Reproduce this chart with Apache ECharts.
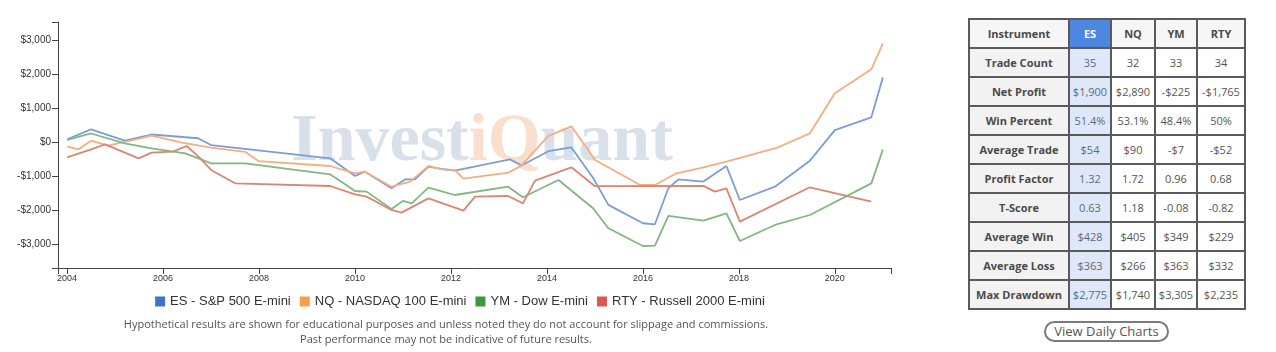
<!DOCTYPE html>
<html>
<head>
<meta charset="utf-8">
<script src="https://cdn.jsdelivr.net/npm/echarts@6/dist/echarts.min.js"></script>
<style>
body { margin: 0; background: #fff; width: 1276px; height: 352px; overflow: hidden; font-family: "Open Sans", sans-serif; }
#chart { position: absolute; left: 0; top: 0; width: 920px; height: 352px; }
#stats { position: absolute; left: 968px; top: 18px; border-collapse: collapse; table-layout: fixed; border: 2px solid #8a8a8a; }
#stats td { border: 2px solid #5a5a5a; height: 27px; padding: 0; text-align: center; font-size: 11px; color: #555; background: #fff; white-space: nowrap; }
#stats td.lbl { background: #f2f2f2; font-weight: bold; color: #4a4a4a; }
#stats td.es { background: #dfe8f8; color: #5a6a80; }
#stats td.esHead { background: #4d87e2; color: #fff; font-weight: bold; }
#stats td.head { background: #f6f6f6; font-weight: bold; color: #4a4a4a; }
#btn { position: absolute; left: 1044px; top: 321px; width: 121px; height: 17px; border: 2px solid #7a7a7a; border-radius: 11px; font-size: 13px; line-height: 17px; text-align: center; color: #555; }
</style>
</head>
<body>
<div id="chart"></div>
<table id="stats"></table>
<div id="btn">View Daily Charts</div>
<script>
// equity curves (year, cumulative $)
var esYears = [2004.0, 2004.5, 2005.2, 2005.76, 2006.73, 2007.0, 2009.48, 2010.0, 2010.2, 2010.76, 2011.04, 2011.25, 2011.53, 2011.8, 2012.08, 2013.23, 2013.47, 2014.03, 2014.51, 2014.96, 2015.28, 2016.0, 2016.25, 2016.53, 2016.74, 2017.26, 2017.74, 2018.02, 2018.75, 2019.48, 2020.0, 2020.76, 2021.0];
var esValues = [80, 370, 40, 220, 110, -90, -480, -1000, -870, -1360, -1100, -1100, -725, -790, -840, -510, -690, -270, -160, -1050, -1850, -2390, -2420, -1360, -1100, -1165, -706, -1706, -1314, -550, 350, 726, 1900];

var nqYears = [2004.0, 2004.24, 2004.5, 2004.85, 2005.5, 2005.76, 2006.39, 2007.0, 2007.71, 2007.99, 2009.48, 2010.0, 2010.2, 2010.76, 2011.15, 2011.53, 2011.8, 2012.08, 2012.26, 2013.2, 2013.47, 2014.03, 2014.51, 2014.93, 2015.0, 2015.38, 2015.94, 2016.25, 2016.7, 2017.26, 2017.74, 2018.82, 2019.48, 2020.0, 2020.76, 2021.0];
var nqValues = [-137, -215, 38, -110, 100, 190, -20, -167, -290, -560, -706, -920, -870, -1314, -1167, -706, -804, -823, -1080, -902, -690, 180, 460, -382, -530, -823, -1265, -1265, -920, -745, -578, -156, 255, 1432, 2138, 2890];

var ymYears = [2004.0, 2004.5, 2005.2, 2005.76, 2006.46, 2006.74, 2007.0, 2007.71, 2009.48, 2010.0, 2010.24, 2010.76, 2011.0, 2011.18, 2011.53, 2012.08, 2013.19, 2013.5, 2014.24, 2014.96, 2015.28, 2016.0, 2016.25, 2016.53, 2017.26, 2017.74, 2018.02, 2018.75, 2019.48, 2020.76, 2021.0];
var ymValues = [60, 250, -40, -190, -333, -480, -627, -627, -951, -1441, -1460, -1970, -1735, -1803, -1343, -1559, -1314, -1627, -1118, -1950, -2539, -3059, -3050, -2176, -2314, -2098, -2912, -2441, -2147, -1216, -225];

var rtyYears = [2004.0, 2004.5, 2004.79, 2005.49, 2005.76, 2006.21, 2006.49, 2006.74, 2007.0, 2007.5, 2009.48, 2010.0, 2010.24, 2010.76, 2010.97, 2011.53, 2012.26, 2012.5, 2013.19, 2013.5, 2013.75, 2014.51, 2015.0, 2017.26, 2017.5, 2017.74, 2018.02, 2019.48, 2020.76];
var rtyValues = [-451, -216, -69, -480, -314, -285, -118, -431, -823, -1216, -1294, -1539, -1608, -2000, -2078, -1657, -2020, -1608, -1588, -1804, -1138, -745, -1300, -1290, -1461, -1363, -2343, -1333, -1755];

var seriesNames = ['ES - S&P 500 E-mini', 'NQ - NASDAQ 100 E-mini', 'YM - Dow E-mini', 'RTY - Russell 2000 E-mini'];
var xTicks = [2004, 2006, 2008, 2010, 2012, 2014, 2016, 2018, 2020];
var yTicks = [-3000, -2000, -1000, 0, 1000, 2000, 3000];

// stats table
var instruments = ['ES', 'NQ', 'YM', 'RTY'];
var rowLabels = ['Trade Count', 'Net Profit', 'Win Percent', 'Average Trade', 'Profit Factor', 'T-Score', 'Average Win', 'Average Loss', 'Max Drawdown'];
var tradeCount = ['35', '32', '33', '34'];
var netProfit = ['$1,900', '$2,890', '-$225', '-$1,765'];
var winPercent = ['51.4%', '53.1%', '48.4%', '50%'];
var avgTrade = ['$54', '$90', '-$7', '-$52'];
var profitFactor = ['1.32', '1.72', '0.96', '0.68'];
var tScore = ['0.63', '1.18', '-0.08', '-0.82'];
var avgWin = ['$428', '$405', '$349', '$229'];
var avgLoss = ['$363', '$266', '$363', '$332'];
var maxDrawdown = ['$2,775', '$1,740', '$3,305', '$2,235'];

var iconColors = ['#3f73cc', '#f4a04a', '#3c9a3c', '#df5454'];
var lineColors = ['#7b9ed6', '#f8ad7e', '#80b880', '#dc8672'];

function zip(xs, ys) {
    var out = [];
    for (var i = 0; i < xs.length; i++) out.push([xs[i], ys[i]]);
    return out;
}

// table
var rows = [tradeCount, netProfit, winPercent, avgTrade, profitFactor, tScore, avgWin, avgLoss, maxDrawdown];
var widths = [98, 40, 42, 40, 46];
var html = '<tr><td class="head" style="width:' + widths[0] + 'px">Instrument</td>';
for (var i = 0; i < instruments.length; i++) {
    html += '<td class="' + (i === 0 ? 'esHead' : 'head') + '" style="width:' + widths[i + 1] + 'px">' + instruments[i] + '</td>';
}
html += '</tr>';
for (var r = 0; r < rows.length; r++) {
    html += '<tr><td class="lbl">' + rowLabels[r] + '</td>';
    for (var c = 0; c < rows[r].length; c++) {
        html += '<td' + (c === 0 ? ' class="es"' : '') + '>' + rows[r][c] + '</td>';
    }
    html += '</tr>';
}
document.getElementById('stats').innerHTML = html;

var allYears = [esYears, nqYears, ymYears, rtyYears];
var allValues = [esValues, nqValues, ymValues, rtyValues];
var series = [];
for (var s = 0; s < 4; s++) {
    series.push({
        name: seriesNames[s],
        type: 'line',
        showSymbol: false,
        itemStyle: { color: iconColors[s] },
        lineStyle: { color: lineColors[s], width: 1.8 },
        z: 5,
        data: zip(allYears[s], allValues[s])
    });
}

var myChart = echarts.init(document.getElementById('chart'));
var option = {
    animation: false,
    grid: { left: 58, right: 29, top: 22, bottom: 84 },
    xAxis: {
        type: 'value',
        min: 2003.81,
        max: 2021.17,
        axisLine: { onZero: false, lineStyle: { color: '#444', width: 1 } },
        axisTick: { customValues: [2003.81].concat(xTicks, [2021.17]), length: 6, lineStyle: { color: '#444' } },
        axisLabel: {
            customValues: xTicks, fontSize: 9, color: '#333', margin: 6, fontFamily: 'Liberation Sans',
            formatter: function (v) { return String(v); }
        },
        splitLine: { show: false }
    },
    yAxis: {
        type: 'value',
        min: -3706,
        max: 3529,
        axisLine: { show: true, onZero: false, lineStyle: { color: '#444', width: 1 } },
        axisTick: { show: true, customValues: [-3706].concat(yTicks, [3529]), length: 6, lineStyle: { color: '#444' } },
        axisLabel: {
            customValues: yTicks, fontSize: 10, color: '#333', margin: 7, fontFamily: 'Liberation Sans',
            formatter: function (v) {
                var s = '$' + Math.abs(v).toLocaleString('en-US');
                return v < 0 ? '-' + s : s;
            }
        },
        splitLine: { show: false }
    },
    legend: {
        top: 290,
        left: 'center',
        icon: 'rect',
        itemWidth: 10,
        itemHeight: 10,
        itemGap: 9,
        textStyle: { fontSize: 13, color: '#333', fontFamily: 'Liberation Sans' },
        data: seriesNames
    },
    graphic: [
        {
            type: 'text', x: 482, y: 176, z: 0,
            style: {
                text: '{a|Invest}{b|iQ}{a|uant}',
                align: 'center', verticalAlign: 'bottom',
                rich: {
                    a: { fontFamily: 'Liberation Serif', fontWeight: 'bold', fontSize: 68, fill: '#d8e0ea' },
                    b: { fontFamily: 'Liberation Serif', fontWeight: 'bold', fontSize: 68, fill: '#f9dfcc' }
                }
            }
        },
        {
            type: 'text', x: 446, y: 325,
            style: { text: 'Hypothetical results are shown for educational purposes and unless noted they do not account for slippage and commissions.', align: 'center', verticalAlign: 'middle', font: '11px "Open Sans"', fill: '#555' }
        },
        {
            type: 'text', x: 446, y: 340,
            style: { text: 'Past performance may not be indicative of future results.', align: 'center', verticalAlign: 'middle', font: '11px "Open Sans"', fill: '#555' }
        }
    ],
    series: series
};
myChart.setOption(option);
</script>
</body>
</html>
